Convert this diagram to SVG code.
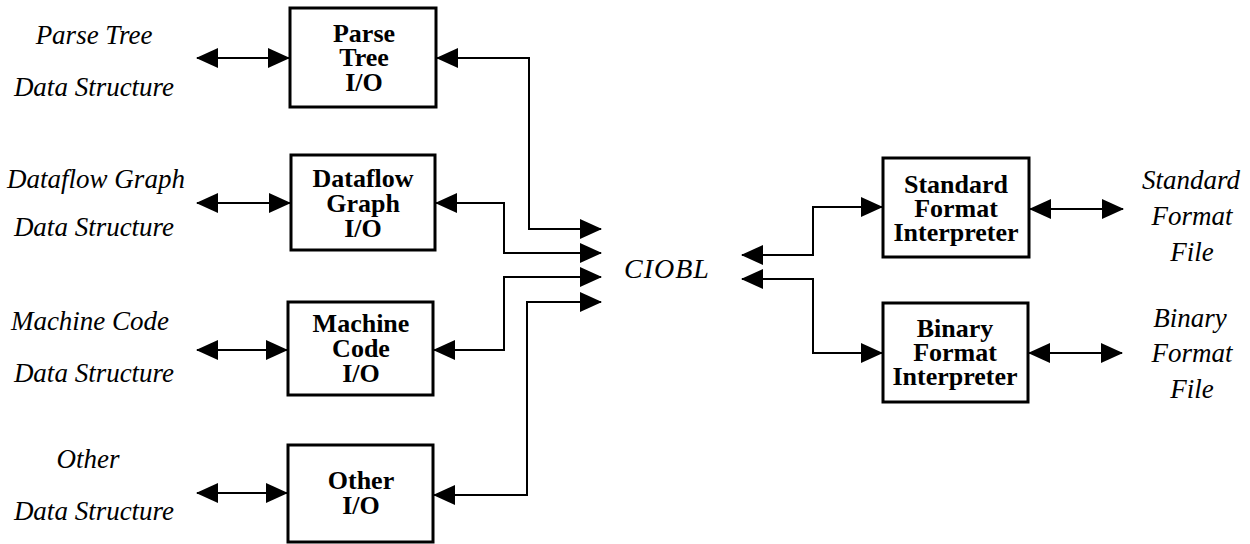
<svg xmlns="http://www.w3.org/2000/svg" width="1250" height="544" viewBox="0 0 1250 544">
<style>
.box{fill:#fff;stroke:#000;stroke-width:3}
.bt{font-family:"Liberation Serif",serif;font-weight:bold;font-size:26px;text-anchor:middle;fill:#000}
.lbl{font-family:"Liberation Serif",serif;font-style:italic;font-size:27px;text-anchor:middle;fill:#000}
.c{fill:none;stroke:#000;stroke-width:2;marker-start:url(#ah);marker-end:url(#ah)}
.c1{fill:none;stroke:#000;stroke-width:2;marker-end:url(#ah)}
</style>
<defs>
<marker id="ah" markerUnits="userSpaceOnUse" markerWidth="22" markerHeight="20" viewBox="0 0 22 20" refX="21" refY="10" orient="auto-start-reverse">
<path d="M0,0 L22,10 L0,20 z" fill="#000"/>
</marker>
</defs>
<rect width="1250" height="544" fill="#fff"/>

<g id="labels-left">
<text class="lbl" x="94" y="44">Parse Tree</text>
<text class="lbl" x="94" y="96">Data Structure</text>
<text class="lbl" x="96" y="188">Dataflow Graph</text>
<text class="lbl" x="94" y="236">Data Structure</text>
<text class="lbl" x="90" y="330">Machine Code</text>
<text class="lbl" x="94" y="382">Data Structure</text>
<text class="lbl" x="88" y="468">Other</text>
<text class="lbl" x="94" y="520">Data Structure</text>
</g>

<g id="node-parse-tree">
<rect class="box" x="290" y="8" width="146" height="99"/>
<text class="bt" x="364" y="42">Parse</text>
<text class="bt" x="364" y="66">Tree</text>
<text class="bt" x="364" y="91">I/O</text>
</g>
<g id="node-dataflow">
<rect class="box" x="291" y="155" width="144" height="95"/>
<text class="bt" x="363" y="187">Dataflow</text>
<text class="bt" x="363" y="212">Graph</text>
<text class="bt" x="363" y="237">I/O</text>
</g>
<g id="node-machine">
<rect class="box" x="288" y="302" width="145" height="93"/>
<text class="bt" x="361" y="332">Machine</text>
<text class="bt" x="361" y="357">Code</text>
<text class="bt" x="361" y="382">I/O</text>
</g>
<g id="node-other">
<rect class="box" x="288" y="445" width="145" height="97"/>
<text class="bt" x="361" y="489">Other</text>
<text class="bt" x="361" y="514">I/O</text>
</g>
<g id="node-ciobl">
<text x="667" y="278" font-family="'Liberation Serif',serif" font-style="italic" font-size="28" letter-spacing="1" text-anchor="middle">CIOBL</text>
</g>
<g id="node-standard">
<rect class="box" x="883" y="158" width="146" height="99"/>
<text class="bt" x="956" y="193">Standard</text>
<text class="bt" x="956" y="217">Format</text>
<text class="bt" x="956" y="241">Interpreter</text>
</g>
<g id="node-binary">
<rect class="box" x="883" y="303" width="145" height="99"/>
<text class="bt" x="955" y="337">Binary</text>
<text class="bt" x="955" y="361">Format</text>
<text class="bt" x="955" y="385">Interpreter</text>
</g>
<g id="labels-right">
<text class="lbl" x="1191" y="189">Standard</text>
<text class="lbl" x="1192" y="225">Format</text>
<text class="lbl" x="1192" y="261">File</text>
<text class="lbl" x="1190" y="327">Binary</text>
<text class="lbl" x="1192" y="362">Format</text>
<text class="lbl" x="1192" y="398">File</text>
</g>

<g id="connectors">
<path class="c" d="M197,58 L289,58"/>
<path class="c" d="M197,203 L290,203"/>
<path class="c" d="M197,350 L287,350"/>
<path class="c" d="M197,493 L287,493"/>
<path class="c" d="M437,58 L529,58 L529,229 L601,229"/>
<path class="c" d="M436,203 L504,203 L504,253 L601,253"/>
<path class="c" d="M434,350 L504,350 L504,277 L601,277"/>
<path class="c" d="M434,495 L527,495 L527,302 L601,302"/>
<path class="c" d="M742,255 L813,255 L813,207 L882,207"/>
<path class="c" d="M742,279 L813,279 L813,353 L882,353"/>
<path class="c" d="M1030,209 L1123,209"/>
<path class="c" d="M1029,353 L1122,353"/>
</g>
</svg>
